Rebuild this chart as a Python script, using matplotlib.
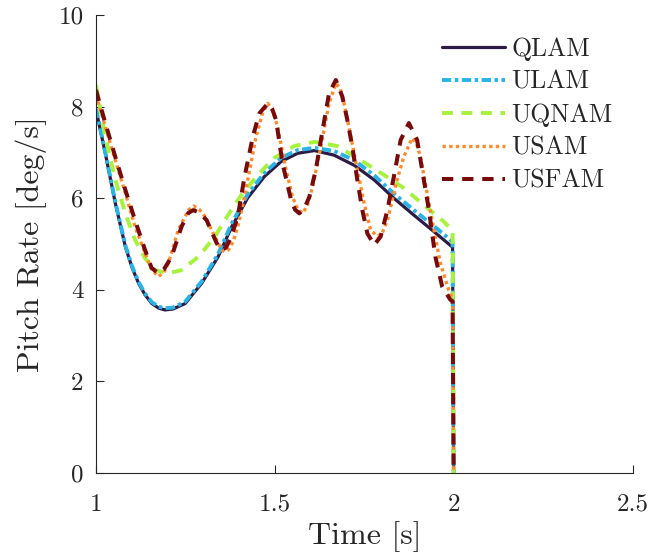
import matplotlib
matplotlib.use("Agg")
import matplotlib.pyplot as plt

plt.rcParams['font.family'] = ['cmr10', 'DejaVu Serif']
plt.rcParams['mathtext.fontset'] = 'cm'
plt.rcParams['axes.formatter.use_mathtext'] = True
plt.rcParams['axes.unicode_minus'] = False

# ---- data ----
t_qlam = [1.0, 1.026, 1.054, 1.082, 1.100, 1.119, 1.137, 1.156, 1.175, 1.193, 1.215, 1.249, 1.295, 1.341, 1.378,
          1.424, 1.470, 1.517, 1.563, 1.610, 1.665, 1.721, 1.777, 1.832, 1.888, 1.944, 1.996, 1.999]
v_qlam = [7.93, 6.98, 5.89, 4.94, 4.50, 4.14, 3.89, 3.70, 3.60, 3.56, 3.58, 3.70, 4.14, 4.72, 5.36,
          6.01, 6.47, 6.80, 6.98, 7.04, 6.94, 6.72, 6.40, 6.00, 5.63, 5.27, 4.93, 0.0]

t_ulam = [1.0, 1.026, 1.054, 1.082, 1.100, 1.119, 1.137, 1.156, 1.175, 1.193, 1.215, 1.249, 1.295, 1.341, 1.378,
          1.424, 1.470, 1.517, 1.563, 1.610, 1.665, 1.721, 1.777, 1.832, 1.888, 1.944, 1.996, 1.999]
v_ulam = [7.95, 7.00, 5.92, 4.97, 4.53, 4.17, 3.92, 3.73, 3.63, 3.60, 3.61, 3.74, 4.18, 4.78, 5.43,
          6.09, 6.55, 6.88, 7.05, 7.10, 7.03, 6.83, 6.50, 6.10, 5.74, 5.39, 5.05, 0.0]

t_uqnam = [1.0, 1.026, 1.054, 1.082, 1.109, 1.137, 1.165, 1.202, 1.239, 1.286, 1.332, 1.368, 1.406,
           1.452, 1.498, 1.554, 1.610, 1.674, 1.739, 1.804, 1.860, 1.916, 1.971, 1.996, 1.999]
v_uqnam = [8.47, 7.34, 6.40, 5.67, 5.09, 4.69, 4.43, 4.36, 4.43, 4.72, 5.16, 5.62, 6.07,
           6.51, 6.88, 7.14, 7.23, 7.14, 6.83, 6.51, 6.22, 5.85, 5.49, 5.30, 0.0]

t_usam = [1.0, 1.026, 1.054, 1.082, 1.109, 1.137, 1.155, 1.174, 1.190, 1.202, 1.230, 1.258, 1.272,
          1.288, 1.304, 1.332, 1.351, 1.359, 1.370, 1.383, 1.396, 1.410, 1.424, 1.447, 1.465, 1.480,
          1.494, 1.507, 1.531, 1.549, 1.563, 1.577, 1.591, 1.605, 1.628, 1.651, 1.670, 1.682, 1.693,
          1.712, 1.730, 1.749, 1.767, 1.786, 1.800, 1.814, 1.841, 1.860, 1.883, 1.895, 1.906, 1.925,
          1.944, 1.962, 1.985, 1.996, 1.999]
v_usam = [8.25, 7.56, 6.83, 6.11, 5.38, 4.80, 4.45, 4.29, 4.38, 4.58, 5.31, 5.74, 5.83,
          5.76, 5.60, 5.16, 4.87, 4.83, 4.87, 5.05, 5.38, 5.85, 6.40, 7.34, 7.85, 8.07,
          7.90, 7.56, 6.62, 6.03, 5.76, 5.67, 5.85, 6.25, 7.12, 8.07, 8.51, 8.40, 8.07,
          7.34, 6.62, 5.89, 5.31, 5.16, 5.25, 5.52, 6.40, 6.91, 7.31, 7.20, 6.91, 6.11,
          5.31, 4.58, 4.00, 3.80, 0.0]

t_usfam = [1.0, 1.026, 1.054, 1.082, 1.109, 1.137, 1.155, 1.174, 1.190, 1.211, 1.239, 1.258, 1.272,
           1.290, 1.309, 1.337, 1.350, 1.363, 1.378, 1.396, 1.415, 1.438, 1.456, 1.480, 1.492, 1.503,
           1.521, 1.545, 1.556, 1.568, 1.582, 1.596, 1.614, 1.633, 1.651, 1.670, 1.688, 1.702, 1.716,
           1.730, 1.744, 1.758, 1.777, 1.795, 1.814, 1.832, 1.851, 1.874, 1.897, 1.911, 1.930, 1.948,
           1.967, 1.990, 1.996, 1.999]
v_usfam = [8.36, 7.64, 6.90, 6.18, 5.52, 4.87, 4.48, 4.36, 4.45, 4.72, 5.38, 5.68, 5.74,
           5.68, 5.52, 5.02, 4.87, 4.92, 5.16, 5.60, 6.47, 7.34, 7.85, 8.07, 7.95, 7.71,
           6.76, 5.96, 5.75, 5.67, 5.78, 6.03, 6.62, 7.49, 8.29, 8.58, 8.22, 7.71, 7.12,
           6.40, 5.74, 5.23, 4.98, 5.16, 5.74, 6.47, 7.27, 7.64, 7.27, 6.62, 5.74, 4.72,
           4.07, 3.78, 3.75, 0.0]

labels = ['QLAM', 'ULAM', 'UQNAM', 'USAM', 'USFAM']
x_ticks = [1, 1.5, 2, 2.5]
x_ticklabels = ['1', '1.5', '2', '2.5']
y_ticks = [0, 2, 4, 6, 8, 10]
y_ticklabels = ['0', '2', '4', '6', '8', '10']

# ---- figure ----
fig = plt.figure(figsize=(6.5, 5.59), dpi=100)
ax = fig.add_axes([96/650, 1 - 473/559, (633-96)/650, (473-15)/559])

ax.plot(t_qlam, v_qlam, color='#2d1a45', lw=2.3, solid_capstyle='round', solid_joinstyle='round', label=labels[0])
ax.plot(t_ulam, v_ulam, color='#2ab4e6', lw=2.8, dashes=(2.4, 0.9, 0.9, 0.9), label=labels[1])
ax.plot(t_uqnam, v_uqnam, color='#a6f23c', lw=2.8, dashes=(2.8, 2.2), label=labels[2])
ax.plot(t_usam, v_usam, color='#ff8a2c', lw=2.4, dashes=(1.0, 1.0), label=labels[3])
ax.plot(t_usfam, v_usfam, color='#780a0a', lw=2.9, dashes=(2.8, 2.2), label=labels[4])

ax.set_xlim(1, 2.5)
ax.set_ylim(0, 10)
ax.set_xticks(x_ticks)
ax.set_xticklabels(x_ticklabels)
ax.set_yticks(y_ticks)
ax.set_yticklabels(y_ticklabels)

gray = '#262626'
for s in ['top', 'right']:
    ax.spines[s].set_visible(False)
for s in ['left', 'bottom']:
    ax.spines[s].set_color(gray)
    ax.spines[s].set_linewidth(0.8)
ax.tick_params(direction='in', length=6, width=0.8, colors=gray, labelsize=18)
ax.tick_params(axis='x', pad=15)
ax.tick_params(axis='y', pad=9)

ax.set_xlabel('Time [s]', fontsize=23, color=gray, labelpad=4)
ax.set_ylabel('Pitch Rate [deg/s]', fontsize=23, color=gray, labelpad=8)

leg = ax.legend(loc='upper left', bbox_to_anchor=(442/650, 1 - 37/559),
                bbox_transform=fig.transFigure, frameon=False,
                fontsize=18.5, handlelength=2.45, handletextpad=0.25, labelspacing=0.36,
                borderaxespad=0.0, borderpad=0.0)
for txt in leg.get_texts():
    txt.set_color(gray)

fig.savefig('out.png', dpi=100)
